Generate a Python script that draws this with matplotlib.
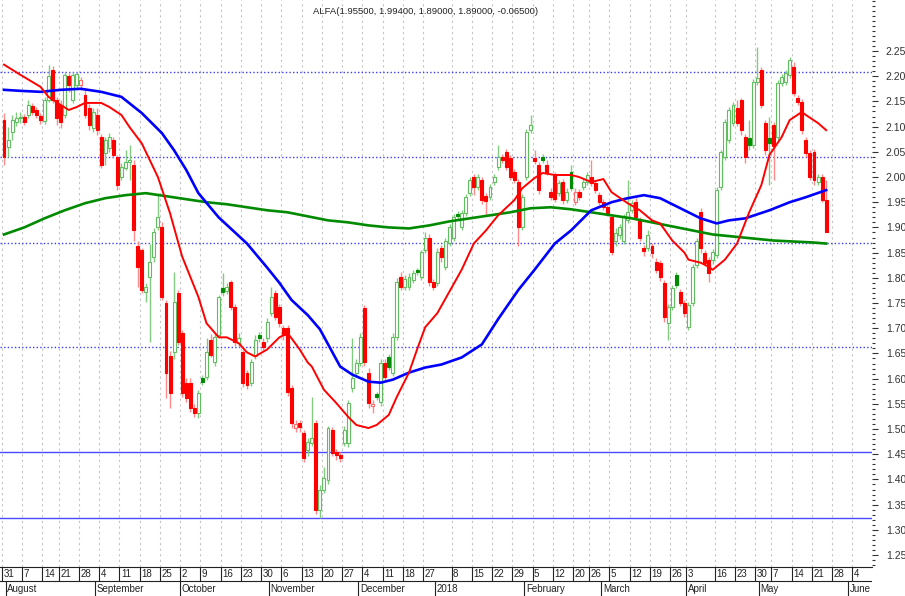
import numpy as np
import pandas as pd
import matplotlib
matplotlib.use("Agg")
import matplotlib.pyplot as plt
from matplotlib.ticker import FixedLocator, MultipleLocator, FormatStrFormatter

FONT = ['Liberation Sans Narrow', 'Liberation Sans', 'DejaVu Sans']
plt.rcParams['font.family'] = FONT

title = 'ALFA(1.95500, 1.99400, 1.89000, 1.89000, -0.06500)'

opens = [
    2.113, 2.059, 2.089, 2.109, 2.117, 2.119, 2.123, 2.141, 2.133, 2.121,
    2.111, 2.153, 2.213, 2.153, 2.143, 2.123, 2.201, 2.153, 2.183, 2.183,
    2.163, 2.137, 2.097, 2.123, 2.079, 2.048, 2.057, 2.073, 2.040, 2.000,
    2.018, 2.030, 2.024, 1.864, 1.856, 1.772, 1.802, 1.842, 1.900, 1.900,
    1.750, 1.644, 1.652, 1.770, 1.690, 1.592, 1.592, 1.542, 1.532, 1.602,
    1.604, 1.676, 1.634, 1.686, 1.780, 1.774, 1.792, 1.742, 1.670, 1.652,
    1.612, 1.592, 1.644, 1.686, 1.672, 1.680, 1.730, 1.770, 1.742, 1.700,
    1.700, 1.582, 1.502, 1.512, 1.492, 1.459, 1.472, 1.512, 1.339, 1.379,
    1.399, 1.498, 1.455, 1.449, 1.472, 1.472, 1.582, 1.612, 1.632, 1.740,
    1.612, 1.546, 1.570, 1.554, 1.632, 1.642, 1.612, 1.682, 1.802, 1.782,
    1.782, 1.796, 1.814, 1.802, 1.856, 1.880, 1.792, 1.790, 1.860, 1.822,
    1.870, 1.880, 1.926, 1.900, 1.928, 1.968, 2.000, 1.980, 1.994, 1.962,
    1.960, 1.990, 2.020, 2.040, 2.050, 2.038, 2.010, 1.990, 1.900, 2.000,
    2.093, 2.038, 2.024, 2.040, 2.024, 1.970, 2.004, 1.968, 1.990, 1.954,
    2.010, 1.950, 1.970, 1.980, 1.990, 2.000, 1.988, 1.964, 1.950, 1.940,
    1.920, 1.874, 1.884, 1.874, 1.914, 1.934, 1.950, 1.914, 1.860, 1.860,
    1.864, 1.832, 1.830, 1.790, 1.710, 1.742, 1.806, 1.772, 1.750, 1.702,
    1.750, 1.826, 1.930, 1.850, 1.836, 1.836, 1.846, 1.980, 2.040, 2.073,
    2.107, 2.137, 2.153, 2.079, 2.077, 2.063, 2.189, 2.213, 2.107, 2.077,
    2.103, 2.079, 2.187, 2.189, 2.203, 2.219, 2.157, 2.149, 2.073, 2.048,
    2.050, 1.990, 2.000, 1.955,
]
highs = [
    2.127, 2.099, 2.123, 2.129, 2.129, 2.125, 2.153, 2.147, 2.139, 2.127,
    2.159, 2.223, 2.221, 2.159, 2.153, 2.209, 2.207, 2.209, 2.209, 2.199,
    2.177, 2.145, 2.137, 2.137, 2.085, 2.079, 2.087, 2.079, 2.044, 2.028,
    2.053, 2.063, 2.034, 1.874, 1.860, 1.790, 1.868, 1.898, 1.968, 1.910,
    1.756, 1.654, 1.812, 1.776, 1.696, 1.602, 1.602, 1.550, 1.578, 1.608,
    1.680, 1.688, 1.690, 1.766, 1.810, 1.790, 1.796, 1.748, 1.690, 1.656,
    1.618, 1.638, 1.686, 1.692, 1.680, 1.720, 1.782, 1.776, 1.748, 1.706,
    1.706, 1.588, 1.518, 1.518, 1.498, 1.482, 1.564, 1.518, 1.389, 1.425,
    1.506, 1.504, 1.461, 1.455, 1.506, 1.558, 1.680, 1.638, 1.690, 1.746,
    1.622, 1.558, 1.574, 1.638, 1.638, 1.648, 1.690, 1.800, 1.812, 1.806,
    1.810, 1.816, 1.820, 1.856, 1.890, 1.886, 1.798, 1.860, 1.866, 1.880,
    1.906, 1.926, 1.932, 1.934, 1.966, 2.000, 2.006, 2.006, 2.000, 1.968,
    1.986, 2.006, 2.063, 2.046, 2.055, 2.044, 2.016, 1.996, 1.966, 2.095,
    2.123, 2.053, 2.030, 2.046, 2.034, 1.978, 2.010, 1.994, 1.996, 1.978,
    2.024, 1.978, 1.976, 1.996, 2.010, 2.034, 1.994, 1.970, 1.956, 1.946,
    1.924, 1.898, 1.906, 1.926, 1.994, 1.954, 1.958, 1.920, 1.866, 1.894,
    1.870, 1.840, 1.836, 1.796, 1.748, 1.786, 1.812, 1.778, 1.756, 1.752,
    1.828, 1.880, 1.938, 1.856, 1.842, 1.858, 1.980, 2.053, 2.115, 2.139,
    2.149, 2.153, 2.157, 2.085, 2.113, 2.195, 2.257, 2.219, 2.113, 2.119,
    2.109, 2.193, 2.205, 2.213, 2.239, 2.229, 2.163, 2.155, 2.079, 2.054,
    2.055, 2.006, 2.006, 1.994,
]
lows = [
    2.024, 2.040, 2.073, 2.101, 2.107, 2.103, 2.117, 2.123, 2.117, 2.105,
    2.105, 2.149, 2.147, 2.103, 2.097, 2.117, 2.169, 2.147, 2.177, 2.173,
    2.117, 2.093, 2.089, 2.083, 2.018, 2.024, 2.050, 2.038, 1.974, 1.994,
    2.014, 1.994, 1.874, 1.782, 1.770, 1.752, 1.672, 1.832, 1.894, 1.756,
    1.562, 1.542, 1.638, 1.666, 1.564, 1.554, 1.534, 1.524, 1.522, 1.588,
    1.598, 1.642, 1.626, 1.680, 1.764, 1.768, 1.736, 1.664, 1.662, 1.584,
    1.580, 1.586, 1.638, 1.672, 1.656, 1.672, 1.724, 1.716, 1.702, 1.676,
    1.566, 1.502, 1.494, 1.494, 1.435, 1.447, 1.466, 1.331, 1.323, 1.373,
    1.391, 1.447, 1.439, 1.435, 1.466, 1.464, 1.574, 1.606, 1.626, 1.626,
    1.542, 1.532, 1.558, 1.546, 1.598, 1.618, 1.606, 1.676, 1.776, 1.776,
    1.776, 1.790, 1.806, 1.796, 1.850, 1.784, 1.776, 1.784, 1.832, 1.816,
    1.864, 1.874, 1.914, 1.894, 1.922, 1.962, 1.964, 1.974, 1.946, 1.924,
    1.954, 1.984, 2.014, 2.028, 2.014, 1.994, 1.988, 1.864, 1.894, 1.994,
    2.087, 2.026, 1.966, 2.028, 2.004, 1.954, 1.950, 1.962, 1.946, 1.948,
    1.972, 1.944, 1.954, 1.974, 1.984, 1.982, 1.968, 1.944, 1.934, 1.922,
    1.846, 1.864, 1.878, 1.868, 1.908, 1.928, 1.914, 1.874, 1.844, 1.854,
    1.840, 1.810, 1.794, 1.712, 1.676, 1.736, 1.780, 1.744, 1.722, 1.696,
    1.744, 1.820, 1.850, 1.824, 1.792, 1.828, 1.840, 1.974, 2.034, 2.067,
    2.101, 2.101, 2.083, 2.028, 2.053, 2.057, 2.183, 2.137, 2.044, 1.984,
    1.994, 2.073, 2.181, 2.183, 2.197, 2.161, 2.143, 2.085, 2.040, 1.994,
    1.984, 1.984, 1.950, 1.890,
]
closes = [
    2.040, 2.073, 2.113, 2.117, 2.119, 2.109, 2.143, 2.129, 2.123, 2.113,
    2.153, 2.201, 2.153, 2.117, 2.109, 2.203, 2.183, 2.203, 2.205, 2.193,
    2.123, 2.103, 2.129, 2.093, 2.024, 2.073, 2.079, 2.044, 1.984, 2.020,
    2.030, 2.034, 1.894, 1.822, 1.776, 1.782, 1.832, 1.890, 1.920, 1.762,
    1.612, 1.572, 1.752, 1.672, 1.572, 1.562, 1.542, 1.532, 1.572, 1.594,
    1.652, 1.646, 1.682, 1.762, 1.772, 1.782, 1.742, 1.672, 1.680, 1.592,
    1.588, 1.634, 1.676, 1.680, 1.662, 1.712, 1.762, 1.722, 1.710, 1.686,
    1.574, 1.512, 1.510, 1.504, 1.443, 1.474, 1.482, 1.339, 1.379, 1.403,
    1.502, 1.453, 1.449, 1.443, 1.498, 1.552, 1.602, 1.632, 1.682, 1.634,
    1.552, 1.550, 1.564, 1.632, 1.604, 1.624, 1.682, 1.792, 1.782, 1.798,
    1.802, 1.810, 1.812, 1.852, 1.880, 1.792, 1.782, 1.852, 1.842, 1.874,
    1.900, 1.920, 1.922, 1.928, 1.960, 1.994, 1.980, 2.000, 1.954, 1.952,
    1.980, 2.000, 2.040, 2.034, 2.020, 2.000, 1.994, 1.900, 1.960, 2.089,
    2.103, 2.032, 1.974, 2.034, 2.010, 1.960, 1.956, 1.988, 1.954, 1.970,
    1.978, 1.970, 1.960, 1.990, 2.004, 1.988, 1.974, 1.950, 1.940, 1.928,
    1.852, 1.888, 1.900, 1.920, 1.930, 1.948, 1.920, 1.880, 1.854, 1.884,
    1.850, 1.816, 1.802, 1.722, 1.742, 1.780, 1.786, 1.750, 1.730, 1.746,
    1.822, 1.874, 1.860, 1.830, 1.810, 1.852, 1.974, 2.050, 2.109, 2.133,
    2.143, 2.107, 2.093, 2.040, 2.063, 2.189, 2.197, 2.143, 2.053, 2.067,
    2.061, 2.187, 2.199, 2.207, 2.233, 2.167, 2.149, 2.093, 2.048, 2.000,
    1.994, 2.000, 1.955, 1.890,
]

# short moving average (red) at these sessions
red_index = [0, 4, 9, 11, 14, 16, 18, 20, 24, 26, 29, 31, 34, 38, 41, 44, 48, 50,
             53, 55, 58, 60, 62, 65, 68, 70, 71, 73, 75, 76, 79, 82, 85, 87, 90,
             92, 95, 97, 100, 102, 104, 107, 113, 116, 119, 122, 126, 128, 131,
             133, 136, 140, 142, 145, 148, 150, 154, 157, 160, 162, 165, 168,
             169, 172, 174, 175, 178, 181, 184, 187, 189, 192, 194, 197, 198,
             201, 203]
ma_red = [2.223, 2.203, 2.179, 2.159, 2.143, 2.133, 2.139, 2.147, 2.147, 2.139,
          2.123, 2.099, 2.067, 2.000, 1.928, 1.842, 1.762, 1.710, 1.682, 1.682,
          1.670, 1.652, 1.644, 1.658, 1.682, 1.690, 1.680, 1.658, 1.632, 1.624,
          1.578, 1.552, 1.524, 1.508, 1.502, 1.508, 1.528, 1.564, 1.612, 1.658,
          1.702, 1.730, 1.816, 1.868, 1.894, 1.924, 1.954, 1.978, 1.998, 2.008,
          2.004, 2.004, 2.000, 1.990, 1.996, 1.970, 1.948, 1.934, 1.914, 1.908,
          1.874, 1.850, 1.836, 1.830, 1.822, 1.816, 1.836, 1.868, 1.930, 1.984,
          2.044, 2.079, 2.113, 2.129, 2.123, 2.107, 2.093]

# medium moving average (blue) at these sessions
blue_index = [0, 4, 9, 14, 19, 24, 29, 34, 39, 42, 45, 48, 53, 60, 65, 68, 71,
              75, 78, 83, 86, 90, 93, 96, 100, 104, 108, 113, 118, 122, 127,
              131, 136, 140, 145, 150, 154, 158, 162, 164, 169, 172, 176, 179,
              183, 189, 194, 198, 203]
ma_blue = [2.173, 2.171, 2.169, 2.173, 2.175, 2.169, 2.159, 2.127, 2.087, 2.053,
           2.014, 1.968, 1.920, 1.868, 1.820, 1.790, 1.756, 1.726, 1.698, 1.624,
           1.608, 1.594, 1.592, 1.598, 1.612, 1.622, 1.628, 1.642, 1.668, 1.718,
           1.776, 1.816, 1.868, 1.894, 1.934, 1.950, 1.958, 1.964, 1.958, 1.950,
           1.930, 1.918, 1.908, 1.914, 1.918, 1.934, 1.950, 1.960, 1.974]

# long moving average (green) sampled every 5 sessions (+ last)
green_index = list(range(0, 201, 5)) + [203]
ma_green = [
    1.886, 1.900, 1.918, 1.934, 1.948, 1.958, 1.964, 1.968, 1.962, 1.956,
    1.950, 1.946, 1.940, 1.934, 1.930, 1.922, 1.914, 1.910, 1.904, 1.900,
    1.898, 1.904, 1.912, 1.918, 1.924, 1.930, 1.938, 1.940, 1.936, 1.930,
    1.924, 1.918, 1.910, 1.902, 1.894, 1.886, 1.882, 1.878, 1.874, 1.872,
    1.870, 1.868,
]

dotted_levels = [2.209, 2.040, 1.870, 1.662]
solid_levels = [1.455, 1.323]

holidays = ['2017-08-15', '2017-12-25', '2017-12-26', '2018-01-01', '2018-02-19',
            '2018-03-30', '2018-04-02', '2018-04-09', '2018-04-10', '2018-05-01']
week_ticks = ['2017-07-31', '2017-08-07', '2017-08-14', '2017-08-21', '2017-08-28',
              '2017-09-04', '2017-09-11', '2017-09-18', '2017-09-25', '2017-10-02',
              '2017-10-09', '2017-10-16', '2017-10-23', '2017-10-30', '2017-11-06',
              '2017-11-13', '2017-11-20', '2017-11-27', '2017-12-04', '2017-12-11',
              '2017-12-18', '2017-12-27', '2018-01-08', '2018-01-15', '2018-01-22',
              '2018-01-29', '2018-02-05', '2018-02-12', '2018-02-20', '2018-02-26',
              '2018-03-05', '2018-03-12', '2018-03-19', '2018-03-26', '2018-04-03',
              '2018-04-16', '2018-04-23', '2018-04-30', '2018-05-07', '2018-05-14',
              '2018-05-21', '2018-05-28', '2018-06-04']
month_ticks = ['2017-08-01', '2017-09-01', '2017-10-02', '2017-11-01', '2017-12-01',
               '2018-01-02', '2018-02-01', '2018-03-01', '2018-04-03', '2018-05-02',
               '2018-06-01']
month_names = ['August', 'September', 'October', 'November', 'December', '2018',
               'February', 'March', 'April', 'May', 'June']

# ---------------------------------------------------------------------------
o = np.array(opens); h = np.array(highs); l = np.array(lows); c = np.array(closes)
assert len(o) == len(h) == len(l) == len(c)
assert len(green_index) == len(ma_green)
assert len(blue_index) == len(ma_blue)
assert len(red_index) == len(ma_red)
n = len(c)
h = np.maximum(h, np.maximum(o, c))
l = np.minimum(l, np.minimum(o, c))
x = np.arange(n)

cal = pd.bdate_range('2017-07-31', '2018-06-29')
cal = cal[~cal.isin(pd.to_datetime(holidays))]


def pos(d):
    return cal.searchsorted(pd.Timestamp(d))


W, H = 905, 596
fig = plt.figure(figsize=(W / 100, H / 100), dpi=100)
plot_right = 872
plot_bottom = 567
ax = fig.add_axes([0, (H - plot_bottom) / H, plot_right / W, plot_bottom / H])
axb = fig.add_axes([0, 0, plot_right / W, (H - plot_bottom) / H], sharex=ax)

px_per = 4.05
ax.set_xlim(-4 / px_per, (plot_right - 4) / px_per)
ax.set_ylim(1.2263, 2.3512)

# weekly dotted grid
for d in week_ticks:
    ax.axvline(pos(d) - 0.5, color='#c4c4c4', lw=0.8, ls=(0, (2, 3)), zorder=0)

for lv in dotted_levels:
    ax.axhline(lv, color='#3c3cff', lw=1.0, ls=(0, (1, 1.6)), zorder=1)
for lv in solid_levels:
    ax.axhline(lv, color='#4a4aff', lw=1.0, zorder=1)

prev = np.r_[o[0], c[:-1]]
up = c >= prev
filled = c < o
face, edge, wick = [], [], []
for u, f in zip(up, filled):
    if u and not f:
        face.append('white'); edge.append('#5fbf5f'); wick.append('#82cc82')
    elif u and f:
        face.append('#008c00'); edge.append('#008c00'); wick.append('#82cc82')
    elif f:
        face.append('#ff0000'); edge.append('#ff0000'); wick.append('#ff8a8a')
    else:
        face.append('white'); edge.append('#ff6a6a'); wick.append('#ff8a8a')

ax.vlines(x, l, h, colors=wick, lw=1.0, zorder=2)
body_bottom = np.minimum(o, c)
body_h = np.maximum(np.abs(c - o), 0.003)
ax.bar(x, body_h, bottom=body_bottom, width=0.72, color=face, edgecolor=edge,
       linewidth=0.8, zorder=3)

ax.plot(green_index, ma_green, color='#008a00', lw=1.9, zorder=4,
        solid_joinstyle='round')
ax.plot(blue_index, ma_blue, color='#0000ff', lw=1.9, zorder=5,
        solid_joinstyle='round')
ax.plot(red_index, ma_red, color='#ff0000', lw=1.4, zorder=6,
        solid_joinstyle='round')

# axes styling
for s in ['top', 'left', 'right']:
    ax.spines[s].set_visible(False)
ax.spines['bottom'].set_color('#222222')
ax.spines['bottom'].set_linewidth(0.8)
ax.tick_params(axis='x', bottom=False, labelbottom=False)
ax.yaxis.tick_right()
ax.yaxis.set_major_locator(FixedLocator(np.round(np.arange(1.25, 2.2501, 0.05), 2)))
ax.yaxis.set_minor_locator(MultipleLocator(0.01))
ax.yaxis.set_major_formatter(FormatStrFormatter('%.2f'))
ax.tick_params(axis='y', which='major', length=4, width=0.8, color='#333333',
               labelsize=7.5, labelcolor='#333333', pad=6)
ax.tick_params(axis='y', which='minor', length=2, width=0.8, color='#333333')

# bottom date bands
axb.set_ylim(0, 1)
axb.axis('off')
split = 0.52
axb.axhline(split, color='#222222', lw=0.8)
for d in week_ticks:
    p = pos(d) - 0.5
    axb.vlines(p, split, 1, color='#222222', lw=0.8)
    axb.text(p + 0.35, 0.76, str(pd.Timestamp(d).day), ha='left', va='center',
             fontsize=7, color='#222222', clip_on=True)
for d, name in zip(month_ticks, month_names):
    p = pos(d) - 0.5
    axb.vlines(p, 0, split, color='#222222', lw=0.8)
    axb.text(p + 0.35, 0.25, name, ha='left', va='center', fontsize=7,
             color='#222222', clip_on=True)

fig.text(426 / W, 1 - 11 / H, title, ha='center', va='center', fontsize=6.8,
         color='#222222')

fig.savefig('out.png', dpi=100)
